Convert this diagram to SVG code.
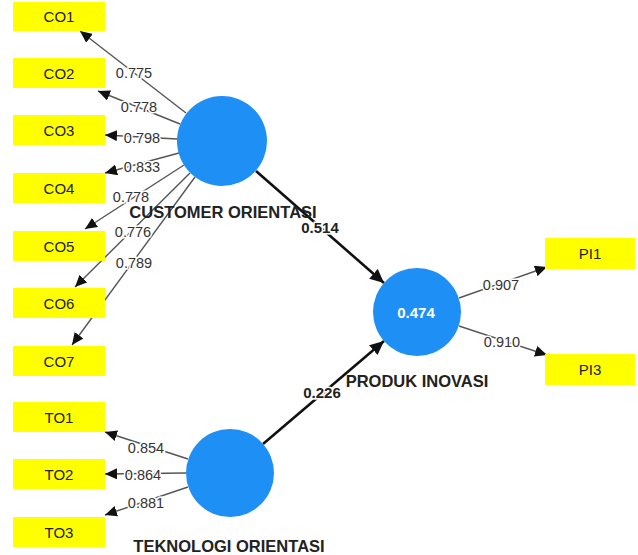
<svg xmlns="http://www.w3.org/2000/svg" width="638" height="555" viewBox="0 0 638 555">
<defs>
<marker id="ah" markerUnits="userSpaceOnUse" markerWidth="13" markerHeight="11" refX="12" refY="5.5" orient="auto"><path d="M0,0 L12,5.5 L0,11 Z" fill="#111"/></marker>
<marker id="ahb" markerUnits="userSpaceOnUse" markerWidth="15" markerHeight="13" refX="14" refY="6.5" orient="auto"><path d="M0,0 L14,6.5 L0,13 Z" fill="#111"/></marker>
</defs>
<style>
.box{fill:#ffff00;}
.bt{font-family:"Liberation Sans",Arial,sans-serif;font-size:15px;fill:#222;text-anchor:middle;}
.ld{stroke:#555;stroke-width:1.4;fill:none;marker-end:url(#ah);}
.pl{stroke:#111;stroke-width:2.6;fill:none;marker-end:url(#ahb);}
.lv{fill:#1e8ff5;}
.num{font-family:"Liberation Sans",Arial,sans-serif;font-size:14.5px;fill:#333;text-anchor:middle;paint-order:stroke;stroke:#fff;stroke-width:3px;}
.pc{font-family:"Liberation Sans",Arial,sans-serif;font-size:15px;font-weight:bold;fill:#222;text-anchor:middle;paint-order:stroke;stroke:#fff;stroke-width:3px;}
.cn{font-family:"Liberation Sans",Arial,sans-serif;font-size:16.5px;font-weight:bold;fill:#222;text-anchor:middle;}
</style>
<rect width="638" height="555" fill="#fff"/>
<g id="connectors">
<line class="ld" x1="186" y1="113" x2="80" y2="31"/>
<line class="ld" x1="180" y1="124" x2="98" y2="91"/>
<line class="ld" x1="177" y1="139" x2="105" y2="135"/>
<line class="ld" x1="179" y1="153" x2="105" y2="173"/>
<line class="ld" x1="184" y1="165" x2="85" y2="229"/>
<line class="ld" x1="190" y1="173" x2="75" y2="287"/>
<line class="ld" x1="195" y1="177" x2="72" y2="345"/>
<line class="ld" x1="188" y1="459" x2="105" y2="432"/>
<line class="ld" x1="186" y1="473" x2="105" y2="474"/>
<line class="ld" x1="188" y1="487" x2="105" y2="515"/>
<line class="ld" x1="459" y1="298" x2="547" y2="267"/>
<line class="ld" x1="459" y1="326" x2="547" y2="355"/>
<line class="pl" x1="256" y1="171" x2="384" y2="283"/>
<line class="pl" x1="263" y1="444" x2="384" y2="341"/>
<text class="num" x="134" y="78">0.775</text>
<text class="num" x="139" y="112">0.778</text>
<text class="num" x="142" y="143">0.798</text>
<text class="num" x="142" y="172">0.833</text>
<text class="num" x="131" y="202">0.778</text>
<text class="num" x="133" y="237">0.776</text>
<text class="num" x="134" y="268">0.789</text>
<text class="num" x="146" y="453">0.854</text>
<text class="num" x="143" y="480">0.864</text>
<text class="num" x="146" y="508">0.881</text>
<text class="num" x="501" y="290">0.907</text>
<text class="num" x="502" y="347">0.910</text>
<text class="pc" x="320" y="233">0.514</text>
<text class="pc" x="322" y="398">0.226</text>
</g>
<g id="CO1"><rect class="box" x="13" y="2" width="92" height="29"/><text class="bt" x="59" y="22">CO1</text></g>
<g id="CO2"><rect class="box" x="13" y="58" width="92" height="30"/><text class="bt" x="59" y="79">CO2</text></g>
<g id="CO3"><rect class="box" x="13" y="115" width="92" height="30"/><text class="bt" x="59" y="136">CO3</text></g>
<g id="CO4"><rect class="box" x="13" y="173" width="92" height="30"/><text class="bt" x="59" y="194">CO4</text></g>
<g id="CO5"><rect class="box" x="13" y="231" width="92" height="30"/><text class="bt" x="59" y="252">CO5</text></g>
<g id="CO6"><rect class="box" x="13" y="288" width="92" height="30"/><text class="bt" x="59" y="309">CO6</text></g>
<g id="CO7"><rect class="box" x="13" y="346" width="92" height="30"/><text class="bt" x="59" y="367">CO7</text></g>
<g id="TO1"><rect class="box" x="13" y="402" width="92" height="30"/><text class="bt" x="59" y="423">TO1</text></g>
<g id="TO2"><rect class="box" x="13" y="459" width="92" height="30"/><text class="bt" x="59" y="480">TO2</text></g>
<g id="TO3"><rect class="box" x="13" y="517" width="92" height="30"/><text class="bt" x="59" y="538">TO3</text></g>
<g id="PI1"><rect class="box" x="545" y="238" width="90" height="31"/><text class="bt" x="590" y="259">PI1</text></g>
<g id="PI3"><rect class="box" x="545" y="354" width="90" height="31"/><text class="bt" x="590" y="375">PI3</text></g>
<g id="CUSTOMER_ORIENTASI"><circle class="lv" cx="222" cy="141" r="45"/><text class="cn" x="223" y="218">CUSTOMER ORIENTASI</text></g>
<g id="TEKNOLOGI_ORIENTASI"><circle class="lv" cx="230" cy="473" r="44"/><text class="cn" x="229" y="552">TEKNOLOGI ORIENTASI</text></g>
<g id="PRODUK_INOVASI"><circle class="lv" cx="417" cy="312" r="44"/><text x="416" y="318" style="font-family:'Liberation Sans',Arial,sans-serif;font-size:15px;font-weight:bold;fill:#fff;text-anchor:middle">0.474</text><text class="cn" x="417" y="387">PRODUK INOVASI</text></g>
</svg>
